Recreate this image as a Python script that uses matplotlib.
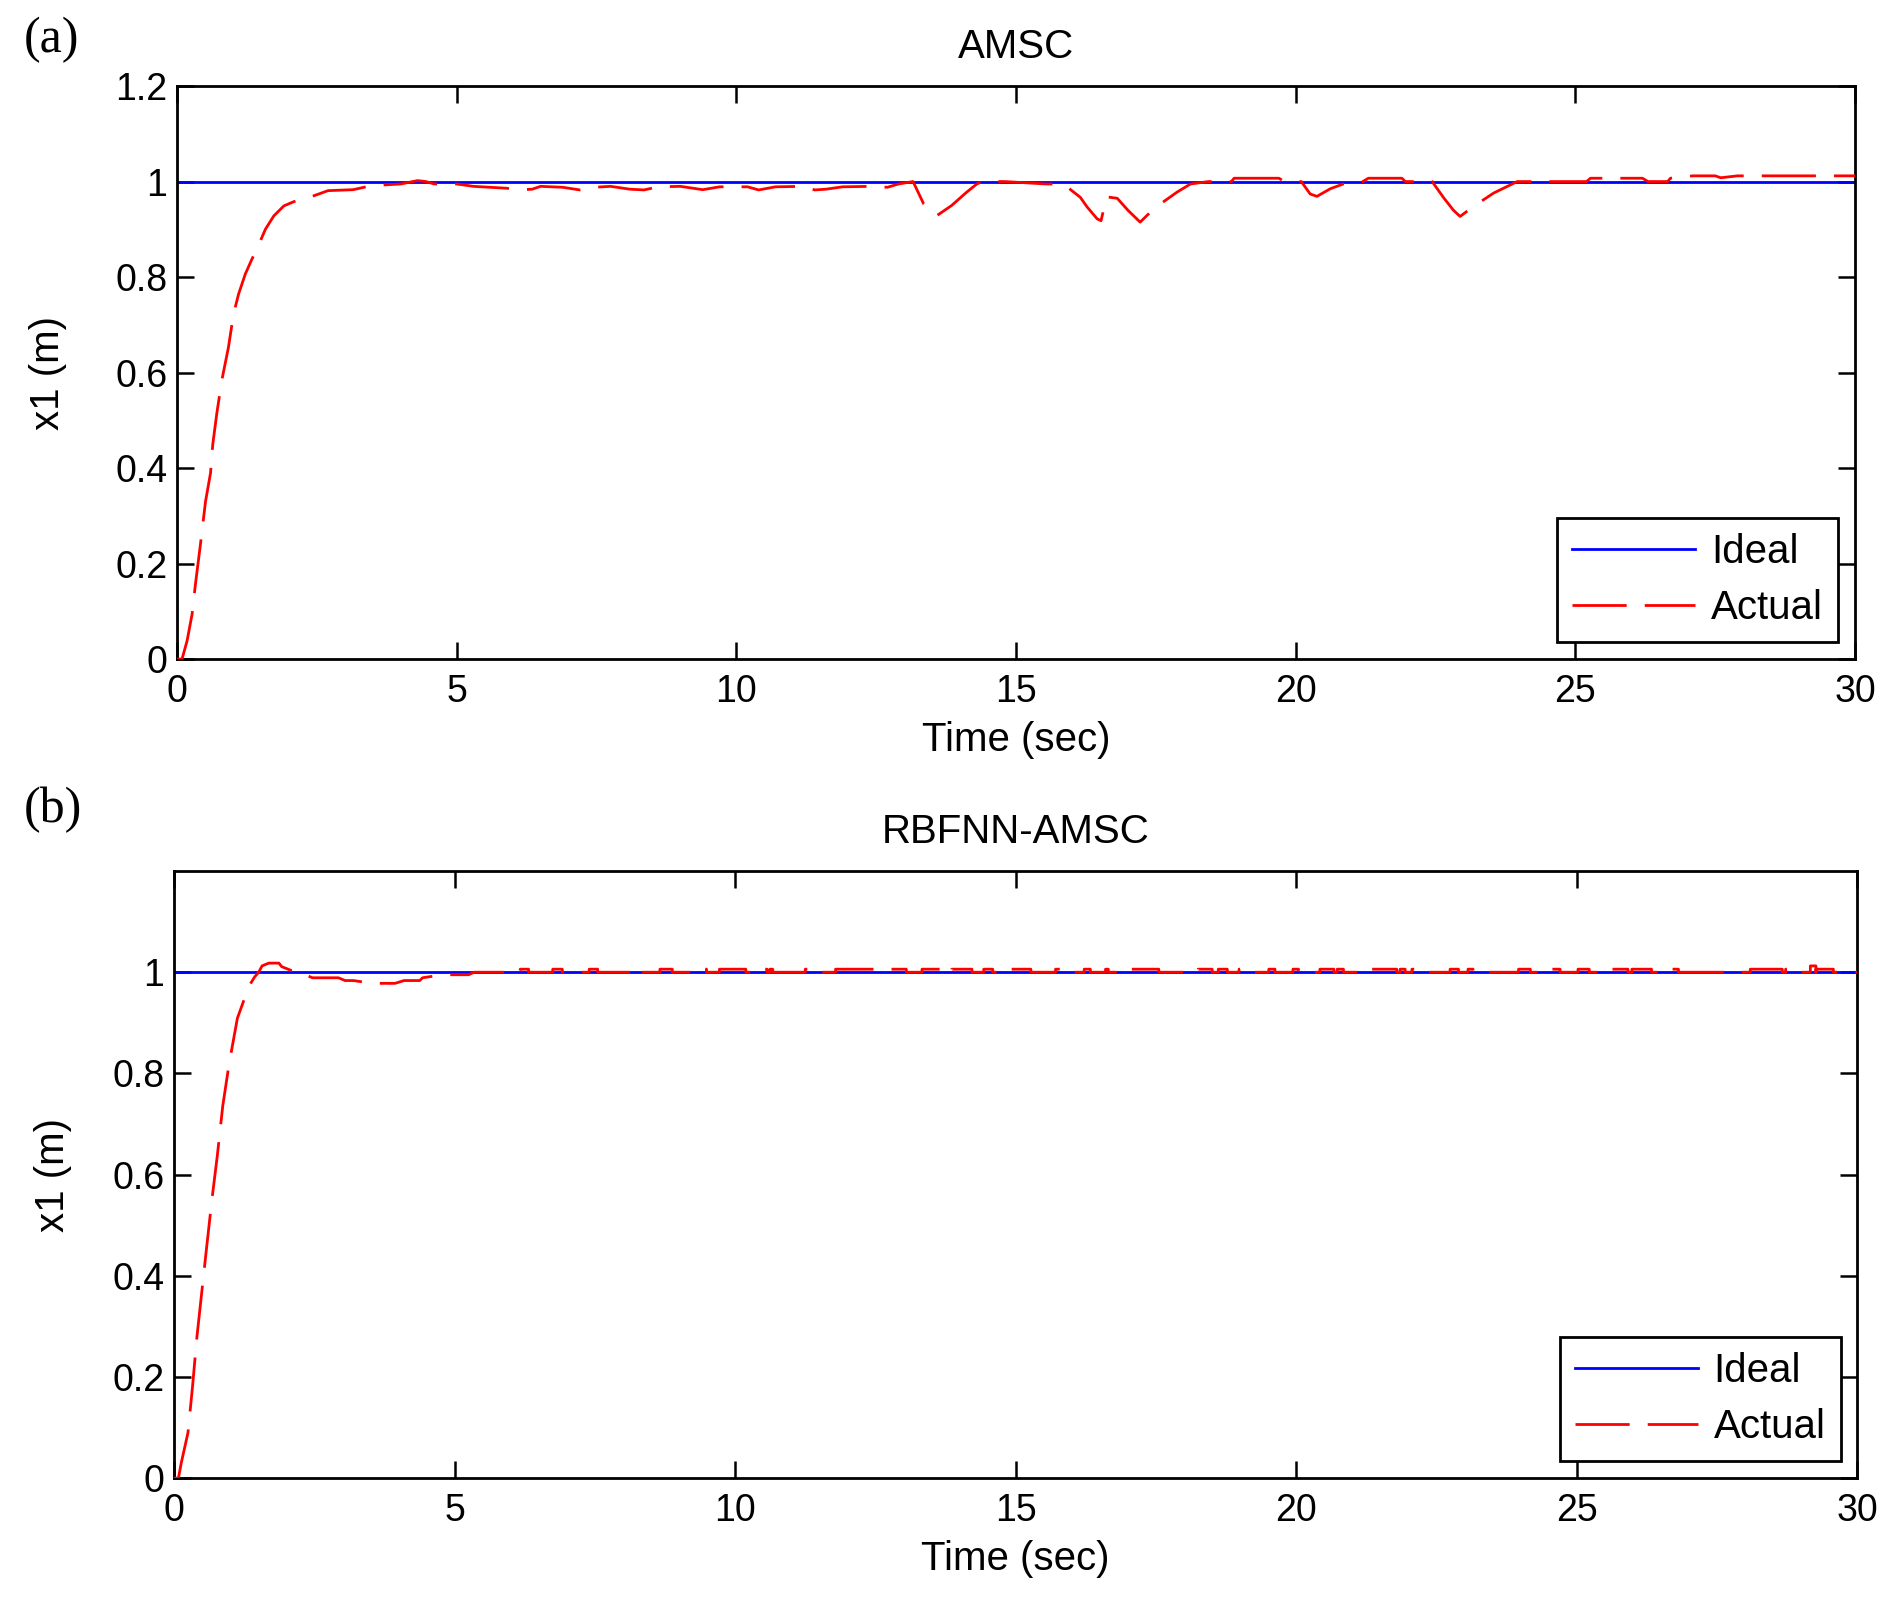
import matplotlib.pyplot as plt
import numpy as np

plt.rcParams['font.family'] = ['Liberation Sans', 'DejaVu Sans']

# (a) AMSC response
t_a = [0, 0.09, 0.18, 0.27, 0.33, 0.42, 0.51, 0.6, 0.64, 0.71, 0.8, 0.92, 1.01,
       1.1, 1.22, 1.33, 1.44, 1.58, 1.73, 1.91, 2.09, 2.44, 2.7, 3.15, 3.38,
       3.7, 4.0, 4.3, 4.45, 4.6, 5.0, 5.3, 5.9, 6.1, 6.35, 6.5, 6.9, 7.2, 7.45,
       7.75, 8.1, 8.35, 8.6, 9.0, 9.4, 9.7, 10.2, 10.4, 10.7, 11.2, 11.4, 11.6,
       11.9, 12.4, 12.7, 12.9, 13.16, 13.35, 13.59, 13.85, 14.12, 14.3, 14.4,
       14.8, 15.1, 15.53, 15.7, 15.9, 16.15, 16.27, 16.45, 16.52, 16.62, 16.81,
       17.0, 17.22, 17.35, 17.52, 17.88, 18.12, 18.44, 18.85, 18.9, 19.7, 19.8,
       20.1, 20.26, 20.38, 20.62, 20.85, 21.2, 21.3, 21.9, 21.96, 22.44, 22.64,
       22.82, 22.94, 23.18, 23.54, 23.96, 25.2, 25.27, 26.2, 26.3, 26.65, 26.7,
       27.1, 27.5, 27.6, 27.9, 30]
x1_a = [0, 0, 0.038, 0.094, 0.157, 0.241, 0.33, 0.39, 0.45, 0.513, 0.583, 0.653,
        0.722, 0.764, 0.806, 0.835, 0.862, 0.9, 0.928, 0.949, 0.958, 0.97, 0.981,
        0.983, 0.989, 0.993, 0.995, 1.002, 1.0, 0.995, 0.995, 0.99, 0.986,
        0.9825, 0.984, 0.99, 0.988, 0.9825, 0.988, 0.99, 0.984, 0.9825, 0.989,
        0.99, 0.983, 0.989, 0.989, 0.9825, 0.989, 0.99, 0.9825, 0.984, 0.989,
        0.99, 0.988, 0.995, 1.0, 0.953, 0.929, 0.95, 0.978, 0.995, 1.0, 1.0,
        0.998, 0.995, 0.995, 0.99, 0.967, 0.947, 0.922, 0.918, 0.968, 0.965,
        0.94, 0.915, 0.93, 0.948, 0.978, 0.995, 1.0, 1.0, 1.007, 1.007, 1.0,
        1.0, 0.974, 0.969, 0.985, 0.995, 1.0, 1.007, 1.007, 1.0, 1.0, 0.967,
        0.94, 0.927, 0.948, 0.976, 1.0, 1.0, 1.007, 1.007, 1.0, 1.0, 1.007,
        1.012, 1.012, 1.008, 1.012, 1.012]

# (b) RBFNN-AMSC response: rise, then small blips above 1
t_b_rise = [0, 0.08, 0.13, 0.25, 0.33, 0.41, 0.5, 0.58, 0.68, 0.77, 0.87, 0.98,
            1.13, 1.28, 1.33, 1.39, 1.44, 1.51, 1.57, 1.69, 1.87, 1.92, 2.1,
            2.28, 2.33, 2.47, 2.93, 3.05, 3.2, 3.53, 3.94, 4.1, 4.38, 4.43,
            4.79, 5.25, 5.35]
x1_b_rise = [0, 0, 0.03, 0.09, 0.18, 0.28, 0.373, 0.454, 0.554, 0.635, 0.736,
             0.817, 0.909, 0.955, 0.972, 0.982, 0.991, 1.0, 1.0125, 1.018,
             1.018, 1.011, 1.003, 1.0, 0.995, 0.989, 0.989, 0.9835, 0.9835,
             0.978, 0.978, 0.9835, 0.9835, 0.989, 0.995, 0.995, 1.0]
blip_start = [6.17, 6.75, 7.40, 8.24, 8.66, 9.29, 9.72, 10.52, 10.62, 11.25,
              11.79, 13.33, 13.86, 14.43, 14.91, 15.71, 16.22, 16.6, 16.98,
              18.25, 18.61, 18.98, 19.51, 19.94, 20.42, 20.73, 21.27, 21.85,
              22.06, 22.74, 23.06, 23.96, 24.39, 25.02, 25.55, 25.98, 26.61,
              28.09, 28.72, 29.16, 29.26]
blip_end = [6.32, 6.92, 7.55, 8.34, 8.88, 9.49, 10.19, 10.57, 10.67, 11.35,
            13.05, 13.74, 14.22, 14.59, 15.27, 15.91, 16.33, 16.65, 17.55,
            18.5, 18.77, 19.03, 19.62, 20.04, 20.67, 20.84, 21.79, 21.94,
            22.15, 22.89, 23.15, 24.17, 24.7, 25.22, 25.91, 26.33, 26.81,
            28.66, 28.77, 29.26, 29.57]
blip_level = [1.006] * 39 + [1.0125, 1.006]

t_b = list(t_b_rise)
x1_b = list(x1_b_rise)
for a, b, lv in zip(blip_start, blip_end, blip_level):
    t_b += [a, a, b, b]
    x1_b += [1.0, lv, lv, 1.0]
t_b.append(30)
x1_b.append(1.0)

ideal_t = [0, 30]
ideal_x = [1, 1]

fs = 27   # tick labels
lfs = 29  # titles, axis labels, legend
dash = (0, (19.5, 6.5))

fig = plt.figure(figsize=(18.95, 16), dpi=100)
ax1 = fig.add_axes([0.0934, 0.5881, 0.8855, 0.3581])
ax2 = fig.add_axes([0.0918, 0.0762, 0.8884, 0.3794])

panels = [
    (ax1, t_a, x1_a, 'AMSC', [0, 0.2, 0.4, 0.6, 0.8, 1, 1.2],
     ['0', '0.2', '0.4', '0.6', '0.8', '1', '1.2'], 35),
    (ax2, t_b, x1_b, 'RBFNN-AMSC', [0, 0.2, 0.4, 0.6, 0.8, 1],
     ['0', '0.2', '0.4', '0.6', '0.8', '1'], 29),
]

for ax, t, x, title, yt, ytl, ylpad in panels:
    ax.plot(ideal_t, ideal_x, color='#0000ff', lw=2, label='Ideal', zorder=2)
    ax.plot(t, x, color='#ff0000', lw=2, linestyle=dash, label='Actual', zorder=3)
    ax.set_xlim(0, 30)
    ax.set_ylim(0, 1.2)
    ax.set_xticks([0, 5, 10, 15, 20, 25, 30])
    ax.set_yticks(yt)
    ax.set_yticklabels(ytl)
    ax.tick_params(axis='x', pad=11)
    ax.tick_params(axis='y', pad=7)
    ax.tick_params(direction='in', length=12, width=1.8, top=True, right=True,
                   labelsize=fs)
    for s in ax.spines.values():
        s.set_linewidth(2)
    ax.set_title(title, fontsize=lfs, pad=20)
    ax.set_xlabel('Time (sec)', fontsize=lfs, labelpad=8)
    ax.set_ylabel('x1 (m)', fontsize=lfs, labelpad=ylpad)
    leg = ax.legend(loc='lower right', fontsize=lfs, handlelength=3.05,
                    handletextpad=0.4, borderpad=0.37, labelspacing=0.45,
                    borderaxespad=0.42, fancybox=False, framealpha=1)
    leg.get_frame().set_edgecolor('black')
    leg.get_frame().set_linewidth(2)

fig.text(0.027, 0.975, '(a)', fontsize=36, family='Liberation Serif',
         ha='center', va='center')
fig.text(0.028, 0.494, '(b)', fontsize=36, family='Liberation Serif',
         ha='center', va='center')

fig.savefig('out.png', dpi=100)
